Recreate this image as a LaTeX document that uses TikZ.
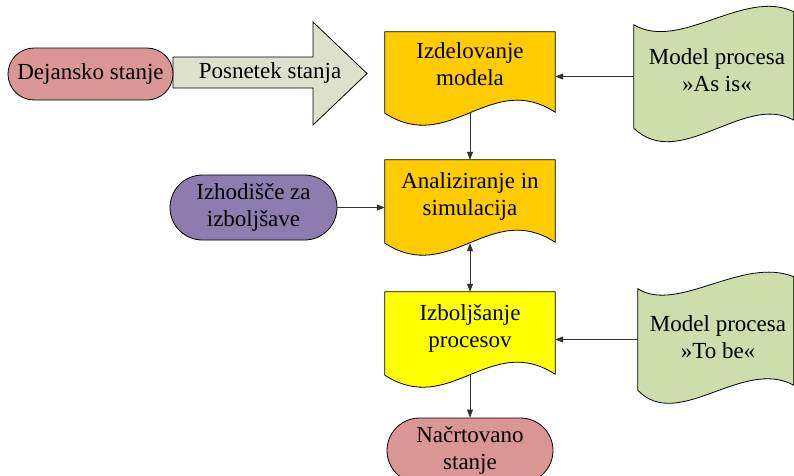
\documentclass[tikz,border=0pt]{standalone}
\usepackage{fontspec}
\setmainfont{LiberationSerif}[Extension=.ttf, UprightFont=*-Regular, BoldFont=*-Bold]
\usetikzlibrary{shapes.misc,arrows.meta,calc,backgrounds}
\definecolor{pinkc}{RGB}{217,150,148}
\definecolor{arrowc}{RGB}{221,225,203}
\definecolor{orangec}{RGB}{255,204,0}
\definecolor{yellowc}{RGB}{255,255,0}
\definecolor{tapec}{RGB}{205,221,172}
\definecolor{purplec}{RGB}{142,124,175}
\newcommand\txl[1]{\rule{0pt}{16pt}#1\rule[-5pt]{0pt}{5pt}}
\newcommand\docout[2]{%
  \path[outline, fill=#2] (#1.south west) -- (#1.north west) -- (#1.north east) -- ($(#1.south east)+(0,-1)$)
    .. controls ($(#1.south)+(20,-43)$) and ($(#1.south)+(-20,42)$) .. (#1.south west) -- cycle;}
\tikzset{
  every node/.style={font=\fontsize{23}{27}\selectfont, align=center, inner sep=0pt},
  stadium/.style={rounded rectangle, draw=black, line width=0.8pt},
  docbox/.style={rectangle, minimum width=170pt},
  outline/.style={draw=black, line width=0.8pt},
  conn/.style={draw=black!80, line width=0.8pt, -{Triangle[length=8pt,width=6pt]}},
  dconn/.style={draw=black!80, line width=0.8pt, {Triangle[length=8pt,width=6pt]}-{Triangle[length=8pt,width=6pt]}},
}
\begin{document}
\begin{tikzpicture}[x=1pt,y=-1pt]
\useasboundingbox (0,0) rectangle (794,475);

% big arrow
\path[outline, fill=arrowc] (173,57) -- (313,57) -- (313,22) -- (367,73.5) -- (313,125) -- (313,88) -- (173,88) -- cycle;
\node (pos) at (270,73) {\txl{Posnetek stanja}};

% stadium nodes
\node[stadium, fill=pinkc, minimum width=165pt, minimum height=52pt] (dej) at (90.5,74) {\txl{Dejansko stanje}};
\node[stadium, fill=purplec, minimum width=167pt, minimum height=65pt] (izh) at (253.5,207.5) {\txl{Izhodišče za\\izboljšave}};
\node[stadium, fill=pinkc, minimum width=166pt, minimum height=65pt] (nac) at (470,450.5) {\txl{Načrtovano\\stanje}};

% document nodes
\node[docbox, minimum height=81pt, label={[yshift=6.5pt]center:{\txl{Izdelovanje\\modela}}}] (izd) at (470,72.5) {};
\node[docbox, minimum height=83pt, label={[yshift=5.5pt]center:{\txl{Analiziranje in\\simulacija}}}] (ana) at (470,201.5) {};
\node[docbox, minimum height=83pt, label={[yshift=5.5pt]center:{\txl{Izboljšanje\\procesov}}}] (izb) at (470,333.5) {};

% tape nodes
\node[rectangle, minimum width=160pt, minimum height=103pt, label={[yshift=4.5pt,xshift=3pt]center:{\txl{Model procesa\\»As is«}}}] (asis) at (714,76.5) {};
\node[rectangle, minimum width=156pt, minimum height=101pt, label={[xshift=2pt]center:{\txl{Model procesa\\»To be«}}}] (tobe) at (716,339.5) {};

\begin{scope}[on background layer]
  \docout{izd}{orangec}
  \docout{ana}{orangec}
  \docout{izb}{yellowc}
  \path[outline, fill=tapec] (asis.north west)
     .. controls ($(asis.north west)+(46,27)$) and ($(asis.north west)+(111,-37)$) .. ($(asis.north west)+(160,-13)$)
     -- ($(asis.south west)+(160,-8)$)
     .. controls ($(asis.south west)+(111,-36)$) and ($(asis.south west)+(46,44)$) .. (asis.south west) -- cycle;
  \path[outline, fill=tapec] (tobe.north west)
     .. controls ($(tobe.north west)+(40,25)$) and ($(tobe.north west)+(105,-33)$) .. ($(tobe.north west)+(156,-12)$)
     -- ($(tobe.south west)+(156,-5)$)
     .. controls ($(tobe.south west)+(105,-33)$) and ($(tobe.south west)+(40,42)$) .. (tobe.south west) -- cycle;
\end{scope}

% connectors
\draw[conn] (asis.west) -- (izd.east |- asis.west);
\draw[conn] (izd.south) -- (ana.north);
\draw[conn] (izh.east) -- (ana.west |- izh.east);
\draw[dconn] (ana.south) -- (izb.north);
\draw[conn] (tobe.west) -- (izb.east |- tobe.west);
\draw[conn] (izb.south) -- (nac.north);
\end{tikzpicture}
\end{document}
